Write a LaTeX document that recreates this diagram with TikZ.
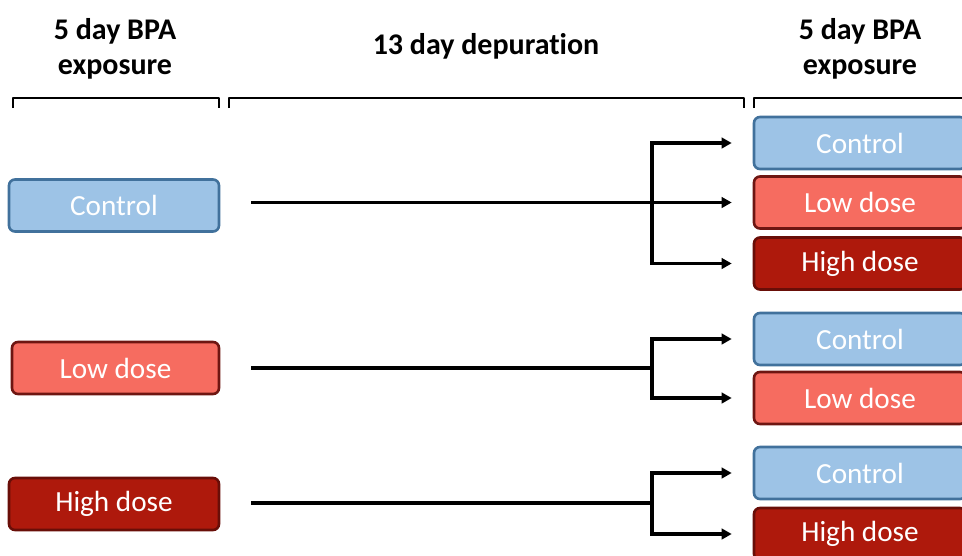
\documentclass[tikz,border=0pt]{standalone}
\usepackage{fontspec}
\setmainfont{Carlito}[Ligatures=NoCommon]
\usetikzlibrary{arrows.meta}
\definecolor{ctrlfill}{RGB}{157,195,230}
\definecolor{ctrledge}{RGB}{65,113,156}
\definecolor{lowfill}{RGB}{246,108,96}
\definecolor{lowedge}{RGB}{110,22,18}
\definecolor{highfill}{RGB}{174,25,12}
\definecolor{highedge}{RGB}{105,14,8}
\tikzset{
  grp/.style={rounded corners=6pt, line width=2.6pt, text=white, inner sep=0pt,
    minimum height=52pt, font=\fontsize{29.2}{34}\selectfont},
  ctrl/.style={grp, fill=ctrlfill, draw=ctrledge},
  low/.style={grp, fill=lowfill, draw=lowedge},
  high/.style={grp, fill=highfill, draw=highedge},
  leftbox/.style={minimum width=210pt},
  rightbox/.style={minimum width=212pt},
  head/.style={align=center, font=\bfseries\fontsize{30}{35}\selectfont},
  bracket/.style={line width=2.2pt, line join=round},
  conn/.style={line width=3.2pt},
  arr/.style={conn, -{Triangle[length=10pt,width=10.5pt]}, shorten >=21pt},
}
\begin{document}
\begin{tikzpicture}[x=1pt,y=-1pt]
\useasboundingbox (0,0) rectangle (962,555);
\clip (0,0) rectangle (962,555);

% column headings
\node[head] (h1) at (115,48.5) {5 day BPA\\exposure};
\node[head] (h2) at (486,46) {13 day depuration};
\node[head] (h3) at (860,48.5) {5 day BPA\\exposure};

% brackets under the headings
\draw[bracket] (13,108) -- (13,98) -- (219,98) -- (219,108);
\draw[bracket] (229,108) -- (229,98) -- (744,98) -- (744,108);
\draw[bracket] (754,108) -- (754,98) -- (975,98);

% first exposure groups
\node[ctrl, leftbox] (lc1) at (114,205.5) {Control};
\node[low, minimum width=207pt] (ll1) at (115.5,368) {Low dose};
\node[high, leftbox] (lh1) at (114,504) {High dose};

% second exposure groups
\node[ctrl, rightbox] (rc1) at (860,143) {Control};
\node[low, rightbox] (rl1) at (860,202.5) {Low dose};
\node[high, rightbox] (rh1) at (860,263.5) {High dose};

\node[ctrl, rightbox] (rc2) at (860,339) {Control};
\node[low, rightbox] (rl2) at (860,398) {Low dose};

\node[ctrl, rightbox] (rc3) at (860,473) {Control};
\node[high, rightbox] (rh3) at (860,534) {High dose};

% branch points
\coordinate (j1) at (652,202.5);
\coordinate (j2) at (652,368);
\coordinate (j3) at (652,503);

% control line and its branches
\draw[arr, shorten <=31pt] (lc1.east |- rl1.west) -- (rl1.west);
\draw[arr] (j1) |- (rc1.west);
\draw[arr] (j1) |- (rh1.west);

% low dose line and its branches
\draw[conn, shorten <=31pt] (ll1.east) -- (j2);
\draw[arr] (j2) |- (rc2.west);
\draw[arr] (j2) |- (rl2.west);

% high dose line and its branches
\draw[conn, shorten <=31pt] (lh1.east |- j3) -- (j3);
\draw[arr] (j3) |- (rc3.west);
\draw[arr] (j3) |- (rh3.west);
\end{tikzpicture}
\end{document}
